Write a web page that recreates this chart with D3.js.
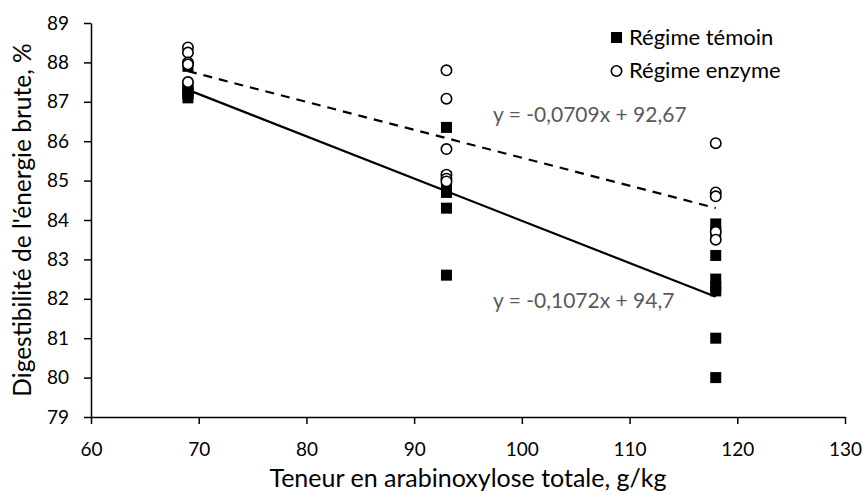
<!DOCTYPE html>
<html>
<head>
<meta charset="utf-8">
<script src="https://cdn.jsdelivr.net/npm/d3@7"></script>
<style>
  body { margin: 0; background: #fff; }
  svg { display: block; font-family: "Lato", "Open Sans", sans-serif; }
</style>
</head>
<body>
<svg id="chart" width="864" height="494"></svg>
<script>
// --- data ---
const xTicks = [60, 70, 80, 90, 100, 110, 120, 130];
const yTicks = [79, 80, 81, 82, 83, 84, 85, 86, 87, 88, 89];

// Régime témoin (filled squares)
const temoinX = [69, 69, 69, 69, 69, 69,
  93, 93, 93, 93, 93, 93,
  118, 118, 118, 118, 118, 118, 118, 118];
const temoinY = [87.1, 87.2, 87.25, 87.3, 87.4, 87.9,
  86.35, 85.1, 84.9, 84.7, 84.3, 82.6,
  83.9, 83.7, 83.1, 82.5, 82.3, 82.2, 81.0, 80.0];

// Régime enzyme (open circles)
const enzymeX = [69, 69, 69, 69, 69,
  93, 93, 93, 93, 93, 93,
  118, 118, 118, 118, 118];
const enzymeY = [88.38, 88.25, 88.0, 87.95, 87.5,
  87.8, 87.08, 85.8, 85.15, 85.05, 84.98,
  85.95, 84.7, 84.6, 83.7, 83.5];

// trend lines: y = slope * x + intercept
const temoinTrend = { slope: -0.1072, intercept: 94.7, label: "y = -0,1072x + 94,7" };
const enzymeTrend = { slope: -0.0709, intercept: 92.67, label: "y = -0,0709x + 92,67" };

const legendLabels = ["Régime témoin", "Régime enzyme"];

// --- layout ---
const svg = d3.select("#chart");
const x = d3.scaleLinear().domain([60, 130]).range([91, 845]);
const y = d3.scaleLinear().domain([79, 89]).range([417, 23]);

// axes
const xAxis = svg.append("g")
  .attr("transform", `translate(0,${y(79)})`)
  .call(d3.axisBottom(x).tickValues(xTicks).tickSize(7).tickPadding(19).tickSizeOuter(0));
const yAxis = svg.append("g")
  .attr("transform", `translate(${x(60)},0)`)
  .call(d3.axisLeft(y).tickValues(yTicks).tickSize(7).tickPadding(15).tickSizeOuter(0));

[xAxis, yAxis].forEach((g) => {
  g.select(".domain").attr("stroke", "#000").attr("stroke-width", 1.5);
  g.selectAll(".tick line").attr("stroke", "#000").attr("stroke-width", 1.5);
  g.selectAll(".tick text")
    .attr("fill", "#000")
    .style("font-size", "19px")
    .style("font-family", "Lato, 'Open Sans', sans-serif");
});

// axis titles
svg.append("text")
  .attr("x", 468)
  .attr("y", 487)
  .attr("text-anchor", "middle")
  .style("font-size", "25px")
  .text("Teneur en arabinoxylose totale, g/kg");

svg.append("text")
  .attr("transform", `translate(31,220) rotate(-90)`)
  .attr("text-anchor", "middle")
  .style("font-size", "24.5px")
  .text("Digestibilité de l'énergie brute, %");

// points: squares first, then circles on top
const sq = 11;
svg.append("g").selectAll("rect")
  .data(d3.range(temoinX.length))
  .join("rect")
  .attr("x", (i) => x(temoinX[i]) - sq / 2)
  .attr("y", (i) => y(temoinY[i]) - sq / 2)
  .attr("width", sq)
  .attr("height", sq)
  .attr("fill", "#000");

svg.append("g").selectAll("circle")
  .data(d3.range(enzymeX.length))
  .join("circle")
  .attr("cx", (i) => x(enzymeX[i]))
  .attr("cy", (i) => y(enzymeY[i]))
  .attr("r", 5.2)
  .attr("fill", "#fff")
  .attr("stroke", "#000")
  .attr("stroke-width", 1.6);

// trend lines over the data range
function trendLine(xs, t, dash) {
  const x0 = d3.min(xs), x1 = d3.max(xs);
  svg.append("line")
    .attr("x1", x(x0)).attr("y1", y(t.slope * x0 + t.intercept))
    .attr("x2", x(x1)).attr("y2", y(t.slope * x1 + t.intercept))
    .attr("stroke", "#000")
    .attr("stroke-width", 2.2)
    .attr("stroke-dasharray", dash);
}
trendLine(temoinX, temoinTrend, null);
trendLine(enzymeX, enzymeTrend, "9,7");

// equation labels
svg.append("text")
  .attr("x", 493).attr("y", 122)
  .attr("fill", "#595959")
  .style("font-size", "21px")
  .text(enzymeTrend.label);
svg.append("text")
  .attr("x", 493).attr("y", 308)
  .attr("fill", "#595959")
  .style("font-size", "21px")
  .text(temoinTrend.label);

// legend
const legend = svg.append("g");
legend.append("rect")
  .attr("x", 611).attr("y", 32).attr("width", 11).attr("height", 11)
  .attr("fill", "#000");
legend.append("circle")
  .attr("cx", 616.5).attr("cy", 71).attr("r", 5.2)
  .attr("fill", "#fff").attr("stroke", "#000").attr("stroke-width", 1.6);
legendLabels.forEach((d, i) => {
  legend.append("text")
    .attr("x", 629).attr("y", 45 + i * 33)
    .style("font-size", "22px")
    .text(d);
});
</script>
</body>
</html>
